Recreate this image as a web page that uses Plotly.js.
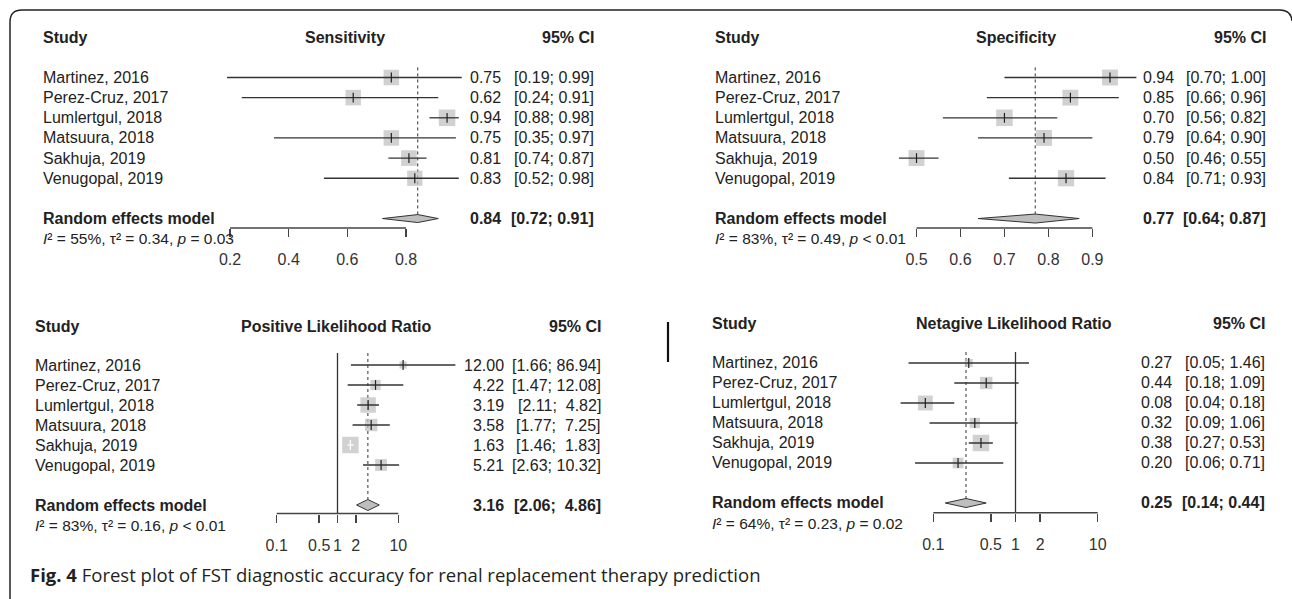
<!DOCTYPE html>
<html><head><meta charset="utf-8">
<script src="https://cdn.plot.ly/plotly-3.0.1.min.js"></script>
<style>html,body{margin:0;padding:0;background:#fff;overflow:hidden}#chart{width:1292px;height:599px}</style>
</head><body><div id="chart"></div>
<script>
// ---------------- data ----------------
const studies = ["Martinez, 2016","Perez-Cruz, 2017","Lumlertgul, 2018","Matsuura, 2018","Sakhuja, 2019","Venugopal, 2019"];
const pooledLabel = "Random effects model";

const sensEst = [0.75, 0.62, 0.94, 0.75, 0.81, 0.83];
const sensLo  = [0.19, 0.24, 0.88, 0.35, 0.74, 0.52];
const sensHi  = [0.99, 0.91, 0.98, 0.97, 0.87, 0.98];
const sensWeight = [16.4, 16.4, 18.6, 16.4, 16.8, 16.0];
const sensPooled = [0.84, 0.72, 0.91];

const specEst = [0.94, 0.85, 0.70, 0.79, 0.50, 0.84];
const specLo  = [0.70, 0.66, 0.56, 0.64, 0.46, 0.71];
const specHi  = [1.00, 0.96, 0.82, 0.90, 0.55, 0.93];
const specWeight = [16.2, 16.2, 17.5, 16.2, 16.2, 17.0];
const specPooled = [0.77, 0.64, 0.87];

const plrEst = [12.00, 4.22, 3.19, 3.58, 1.63, 5.21];
const plrLo  = [1.66, 1.47, 2.11, 1.77, 1.46, 2.63];
const plrHi  = [86.94, 12.08, 4.82, 7.25, 1.83, 10.32];
const plrWeight = [5.4, 11.0, 24.8, 15.9, 28.3, 14.6];
const plrPooled = [3.16, 2.06, 4.86];

const nlrEst = [0.27, 0.44, 0.08, 0.32, 0.38, 0.20];
const nlrLo  = [0.05, 0.18, 0.04, 0.09, 0.27, 0.06];
const nlrHi  = [1.46, 1.09, 0.18, 1.06, 0.53, 0.71];
const nlrWeight = [6.8, 16.5, 23.7, 11.6, 29.1, 12.3];
const nlrPooled = [0.25, 0.14, 0.44];

const hetI2   = ["55%", "83%", "83%", "64%"];
const hetTau2 = ["0.34", "0.49", "0.16", "0.23"];
const hetP    = ["= 0.03", "< 0.01", "< 0.01", "= 0.02"];

const sensTicks = [0.2, 0.4, 0.6, 0.8];
const specTicks = [0.5, 0.6, 0.7, 0.8, 0.9];
const lrTicks   = [0.1, 0.5, 1, 2, 10];
const sensTickText = ["0.2", "0.4", "0.6", "0.8"];
const specTickText = ["0.5", "0.6", "0.7", "0.8", "0.9"];
const lrTickText   = ["0.1", "0.5", "1", "2", "10"];

const titles = ["Sensitivity", "Specificity", "Positive Likelihood Ratio", "Netagive Likelihood Ratio"];
const caption = "<b>Fig. 4</b> Forest plot of FST diagnostic accuracy for renal replacement therapy prediction";

// ---------------- layout geometry ----------------
const W = 1292, H = 599;
const fx = p => p / W, fy = p => 1 - p / H;
const FONT = "Liberation Sans, Arial, Helvetica, sans-serif";
const INK = "#222222";
const BOX = "#BEBEBE";

const panels = [
  {ax:"", est:sensEst, lo:sensLo, hi:sensHi, w:sensWeight, pooled:sensPooled, ticks:sensTicks, tickText:sensTickText, log:false,
   cal:[0.2,230,0.8,406], xdom:[190,480], ydom:[60,228], row0:77.5, step:20.15,
   labelX:41.5, headY:38, titleX:345, estR:502, ciR:595, dia:4, ref:false, top:-0.5},
  {ax:"2", est:specEst, lo:specLo, hi:specHi, w:specWeight, pooled:specPooled, ticks:specTicks, tickText:specTickText, log:false,
   cal:[0.5,916.5,0.9,1092.4], xdom:[875,1160], ydom:[60,228], row0:77.5, step:20.15,
   labelX:714, headY:38, titleX:1016, estR:1175, ciR:1267, dia:4.5, ref:false, top:-0.5},
  {ax:"3", est:plrEst, lo:plrLo, hi:plrHi, w:plrWeight, pooled:plrPooled, ticks:lrTicks, tickText:lrTickText, log:true,
   cal:[0.1,276.7,10,398.3], xdom:[255,459], ydom:[343,513.5], row0:365, step:20,
   labelX:34, headY:326, titleX:336, estR:505, ciR:602, dia:5.5, ref:true, top:-0.6},
  {ax:"4", est:nlrEst, lo:nlrLo, hi:nlrHi, w:nlrWeight, pooled:nlrPooled, ticks:lrTicks, tickText:lrTickText, log:true,
   cal:[0.1,933.3,10,1097.7], xdom:[885,1110], ydom:[341,512.7], row0:363, step:20,
   labelX:711, headY:324, titleX:1014, estR:1173, ciR:1266, dia:4.5, ref:true, top:-0.55}
];

const traces = [];
const annotations = [];
const shapes = [];
const layout = {
  width: W, height: H, margin: {l:0, r:0, t:0, b:0},
  paper_bgcolor: "#fff", plot_bgcolor: "rgba(0,0,0,0)",
  showlegend: false, hovermode: false,
  font: {family: FONT, color: INK}
};

function ann(o) {
  annotations.push(Object.assign({showarrow:false, borderpad:0, font:{family:FONT, size:16, color:INK}}, o));
}

panels.forEach((P, k) => {
  const t = v => P.log ? Math.log10(v) : v;
  const a0 = t(P.cal[0]), a1 = t(P.cal[2]);
  const b = (P.cal[3] - P.cal[1]) / (a1 - a0);           // px per axis unit
  const xr = [a0 + (P.xdom[0] - P.cal[1]) / b, a0 + (P.xdom[1] - P.cal[1]) / b];
  const yBottom = (P.ydom[1] - P.row0) / P.step, yTop = (P.ydom[0] - P.row0) / P.step;
  const xa = "x" + P.ax, ya = "y" + P.ax;
  const poolIdx = 7, hetIdx = 8;
  const rowPx = i => P.row0 + i * P.step;

  layout["xaxis" + P.ax] = {
    domain: [fx(P.xdom[0]), fx(P.xdom[1])], range: xr, type: P.log ? "log" : "linear",
    anchor: ya, showline: false, showgrid: false, zeroline: false,
    ticks: "outside", ticklen: 8, tickwidth: 1.5, tickcolor: "#444",
    tickmode: "array", tickvals: P.ticks, ticktext: P.tickText,
    tickfont: {family: FONT, size: 16, color: "#333"}, ticklabelstandoff: 9, fixedrange: true
  };
  layout["yaxis" + P.ax] = {
    domain: [fy(P.ydom[1]), fy(P.ydom[0])], range: [yBottom, yTop],
    anchor: xa, visible: false, fixedrange: true
  };
  shapes.push({type:"line", xref:xa, yref:"paper", x0:P.ticks[0], x1:P.ticks[P.ticks.length-1],
               y0:fy(P.ydom[1]), y1:fy(P.ydom[1]), line:{color:"#444", width:1.5}});

  const idx = studies.map((_, i) => i);
  const maxW = Math.max(...P.w);
  const sizes = P.w.map(w => 16.5 * Math.sqrt(w / maxW));
  const inside = idx.map(i => (t(P.hi[i]) - t(P.lo[i])) * b < sizes[i]);
  const pool = P.pooled;
  const dh = P.dia / P.step;

  if (P.ref) {
    traces.push({type:"scatter", mode:"lines", xaxis:xa, yaxis:ya, x:[1,1], y:[P.top, yBottom],
                 line:{color:"#333", width:1.3}});
  }
  traces.push({type:"scatter", mode:"lines", xaxis:xa, yaxis:ya, x:[pool[0], pool[0]], y:[P.top, poolIdx - dh],
               line:{color:"#333", width:1, dash:"dot"}});
  traces.push({type:"scatter", mode:"markers", xaxis:xa, yaxis:ya, x:P.est, y:idx,
               marker:{symbol:"square", size:sizes, color:BOX, line:{width:0}}, cliponaxis:false});
  const ciX = [], ciY = [], ciXw = [], ciYw = [];
  idx.forEach(i => {
    if (inside[i]) { ciXw.push(P.lo[i], P.hi[i], null); ciYw.push(i, i, null); }
    else { ciX.push(P.lo[i], P.hi[i], null); ciY.push(i, i, null); }
  });
  traces.push({type:"scatter", mode:"lines", xaxis:xa, yaxis:ya, x:ciX, y:ciY, line:{color:"#333", width:1.3}});
  if (ciXw.length) traces.push({type:"scatter", mode:"lines", xaxis:xa, yaxis:ya, x:ciXw, y:ciYw, line:{color:"#fff", width:1.3}});
  traces.push({type:"scatter", mode:"markers", xaxis:xa, yaxis:ya, x:P.est, y:idx, cliponaxis:false,
               marker:{symbol:"line-ns", size:7, color:"#222", line:{width:1.2, color:inside.map(v => v ? "#fff" : "#222")}}});
  traces.push({type:"scatter", mode:"lines", xaxis:xa, yaxis:ya, fill:"toself", fillcolor:BOX,
               x:[pool[1], pool[0], pool[2], pool[0], pool[1]],
               y:[poolIdx, poolIdx - dh, poolIdx, poolIdx + dh, poolIdx],
               line:{color:"#333", width:1}});

  const hf = {family:FONT, size:16, color:INK};
  ann({xref:"paper", yref:"paper", x:fx(P.labelX), y:fy(P.headY), xanchor:"left", yanchor:"middle", text:"<b>Study</b>", font:hf});
  ann({xref:"paper", yref:"paper", x:fx(P.titleX), y:fy(P.headY), xanchor:"center", yanchor:"middle", text:"<b>" + titles[k] + "</b>", font:hf});
  ann({xref:"paper", yref:"paper", x:fx(P.ciR), y:fy(P.headY), xanchor:"right", yanchor:"middle", text:"<b>95% CI</b>", font:hf});

  const f2 = v => v.toFixed(2);
  const allLo = P.lo.concat([pool[1]]), allHi = P.hi.concat([pool[2]]);
  const wl = Math.max(...allLo.map(v => f2(v).length));
  const wh = Math.max(...allHi.map(v => f2(v).length));
  const ciStr = (l, h) => "[" + f2(l).padStart(wl, "\u00a0") + ";\u00a0" + f2(h).padStart(wh, "\u00a0") + "]";
  studies.forEach((s, i) => {
    ann({xref:"paper", yref:ya, x:fx(P.labelX), y:i, xanchor:"left", yanchor:"middle", text:s});
    ann({xref:"paper", yref:ya, x:fx(P.estR), y:i, xanchor:"right", yanchor:"middle", text:f2(P.est[i])});
    ann({xref:"paper", yref:ya, x:fx(P.ciR), y:i, xanchor:"right", yanchor:"middle", text:ciStr(P.lo[i], P.hi[i])});
  });
  ann({xref:"paper", yref:ya, x:fx(P.labelX), y:poolIdx, xanchor:"left", yanchor:"middle", text:"<b>" + pooledLabel + "</b>"});
  ann({xref:"paper", yref:ya, x:fx(P.estR), y:poolIdx, xanchor:"right", yanchor:"middle", text:"<b>" + f2(pool[0]) + "</b>"});
  ann({xref:"paper", yref:ya, x:fx(P.ciR), y:poolIdx, xanchor:"right", yanchor:"middle", text:"<b>" + ciStr(pool[1], pool[2]) + "</b>"});
  ann({xref:"paper", yref:"paper", x:fx(P.labelX), y:fy(rowPx(hetIdx)), xanchor:"left", yanchor:"middle",
       text:"<i>I</i>\u00b2 = " + hetI2[k] + ", τ\u00b2 = " + hetTau2[k] + ", <i>p</i> " + hetP[k],
       font:{family:FONT, size:15.5, color:INK}});
});

shapes.push({type:"line", xref:"paper", yref:"paper", x0:fx(668), x1:fx(668), y0:fy(322), y1:fy(362), line:{color:"#111", width:2.2}});
const pt = (x, y) => fx(x).toFixed(5) + "," + fy(y).toFixed(5);
shapes.push({type:"path", xref:"paper", yref:"paper", line:{color:"#222", width:1.5},
  path:"M" + pt(10, 600) + " L" + pt(10, 22) + " Q" + pt(10, 10) + " " + pt(22, 10) +
       " L" + pt(1280, 10) + " Q" + pt(1291, 10) + " " + pt(1292, 21)});
annotations.push({xref:"paper", yref:"paper", x:fx(29), y:fy(574), xanchor:"left", yanchor:"middle", showarrow:false, borderpad:0,
  text:caption, font:{family:"Open Sans, Noto Sans, sans-serif", size:18.5, color:"#231f20"}});

layout.annotations = annotations;
layout.shapes = shapes;
Plotly.newPlot("chart", traces, layout, {staticPlot:true, displayModeBar:false});
</script>
</body></html>
